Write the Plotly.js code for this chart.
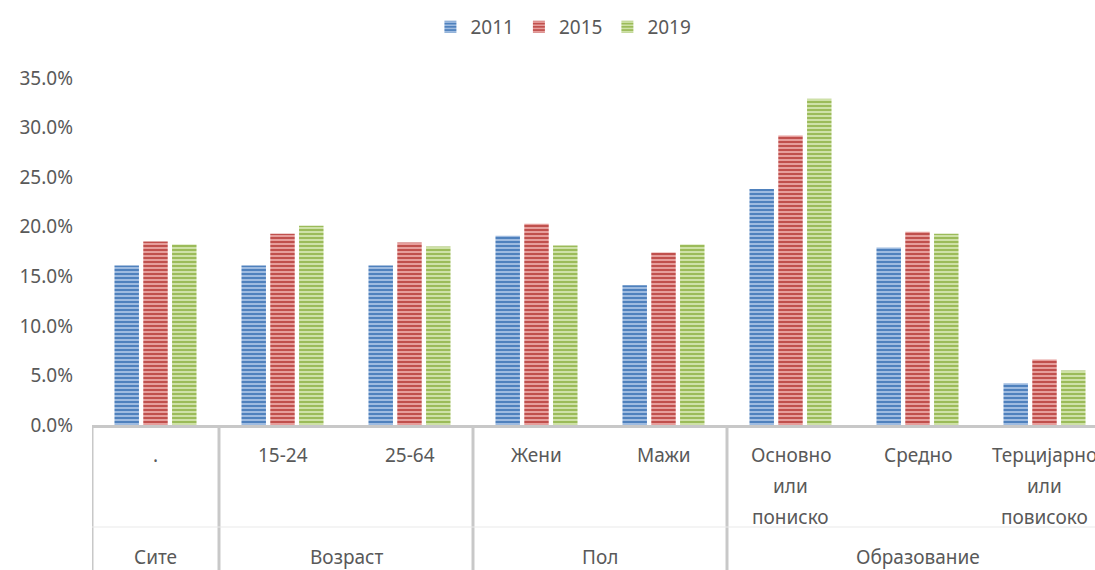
<!DOCTYPE html>
<html>
<head>
<meta charset="utf-8">
<script src="https://cdn.plot.ly/plotly-3.0.1.min.js"></script>
<style>
html,body{margin:0;padding:0;overflow:hidden;background:#fff;}
#chart{width:1108px;height:570px;}
</style>
</head>
<body>
<div id="chart"></div>
<script>
// Data
var groups = ["Сите", "Возраст", "Возраст", "Пол", "Пол", "Образование", "Образование", "Образование"];
var subcats = [".", "15-24", "25-64", "Жени", "Мажи", "Основно<br>или<br>пониско", "Средно", "Терцијарно<br>или<br>повисоко"];
var years = ["2011", "2015", "2019"];
var v2011 = [16.1, 16.1, 16.1, 19.1, 14.1, 23.8, 17.9, 4.2];
var v2015 = [18.5, 19.3, 18.4, 20.3, 17.4, 29.2, 19.5, 6.6];
var v2019 = [18.2, 20.1, 18.0, 18.1, 18.2, 32.9, 19.3, 5.5];
var colors = ["#4f81bd", "#c0504d", "#9bbb59"];
var stripe = ["#a7c2e4", "#eba7a5", "#d4e6b0"];

var W = 1108, H = 570, ML = 92, MT = 78, MB = 145;
var plotH = H - MT - MB;
function py(p) { return -(p - (H - MB)) / plotH; } // pixel row -> paper y

var catIdx = subcats.map(function (_, i) { return i; });

var series = [v2011, v2015, v2019];
var traces = series.map(function (vals, i) {
  return {
    type: "bar",
    name: years[i],
    x: catIdx,
    y: vals,
    marker: {
      color: colors[i],
      line: {width: 0},
      pattern: {shape: "-", fgcolor: stripe[i], bgcolor: colors[i], size: 4, solidity: 0.45, fillmode: "replace"}
    },
    hoverinfo: "y"
  };
});

// dividers between groups (and outer edges)
var shapes = [];
var bounds = [-0.5];
for (var i = 1; i < groups.length; i++) {
  if (groups[i] !== groups[i - 1]) bounds.push(i - 0.5);
}
bounds.push(groups.length - 0.5);
bounds.forEach(function (b) {
  shapes.push({type: "line", xref: "x", yref: "paper", x0: b, x1: b, y0: 0, y1: py(H + 5),
    line: {color: "#c8c8c8", width: 3}});
});
shapes.push({type: "line", xref: "paper", yref: "paper", x0: 0, x1: 1, y0: py(527), y1: py(527),
  line: {color: "#e9e9e9", width: 1}});

// labels
var annotations = [];
var lineRows = [455, 486, 517];
var labelFont = {family: "Noto Sans, Open Sans, sans-serif", size: 19, color: "#595959"};
subcats.forEach(function (s, i) {
  s.split("<br>").forEach(function (ln, k) {
    annotations.push({xref: "x", yref: "paper", x: i, y: py(lineRows[k]), text: ln,
      showarrow: false, xanchor: "center", yanchor: "middle", font: labelFont});
  });
});
var seen = {};
groups.forEach(function (g, i) {
  if (!seen[g]) seen[g] = [];
  seen[g].push(i);
});
Object.keys(seen).forEach(function (g) {
  var idx = seen[g];
  var c = (idx[0] + idx[idx.length - 1]) / 2;
  annotations.push({xref: "x", yref: "paper", x: c, y: py(557), text: g,
    showarrow: false, xanchor: "center", yanchor: "middle", font: labelFont});
});

var layout = {
  width: W,
  height: H,
  margin: {l: ML, r: 0, t: MT, b: MB},
  paper_bgcolor: "#ffffff",
  plot_bgcolor: "#ffffff",
  font: {family: "Noto Sans, Open Sans, sans-serif", size: 19, color: "#595959"},
  barmode: "group",
  bargap: 0.32,
  bargroupgap: 0.15,
  showlegend: true,
  legend: {
    orientation: "h",
    x: 0.5085, xanchor: "center", xref: "container",
    y: 1 - 27 / H, yanchor: "middle", yref: "container",
    font: {size: 19, color: "#595959"},
    itemwidth: 30,
    tracegroupgap: 0
  },
  xaxis: {
    type: "linear",
    range: [-0.5, subcats.length - 0.5],
    showline: true,
    linecolor: "#c8c8c8",
    linewidth: 3,
    showticklabels: false,
    ticks: "",
    showgrid: false,
    zeroline: false
  },
  yaxis: {
    range: [0, 35],
    dtick: 5,
    tick0: 0,
    tickformat: ".1f",
    ticksuffix: "%",
    showgrid: false,
    zeroline: false,
    showline: false,
    ticks: "",
    ticklabelstandoff: 18,
    tickfont: {size: 19, color: "#595959"}
  },
  shapes: shapes,
  annotations: annotations
};

Plotly.newPlot("chart", traces, layout, {displayModeBar: false, staticPlot: true});
</script>
</body>
</html>
